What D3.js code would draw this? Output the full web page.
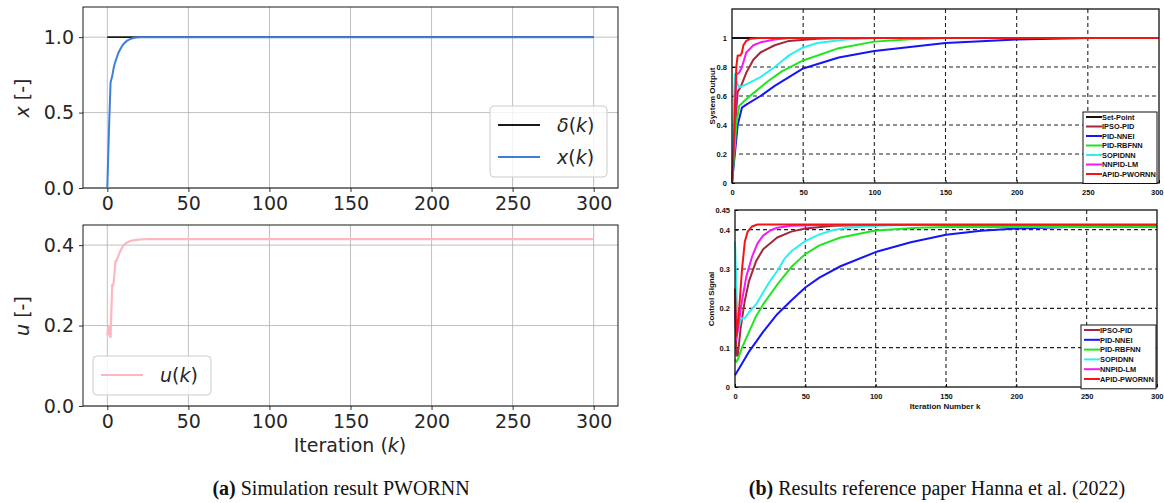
<!DOCTYPE html>
<html><head><meta charset="utf-8">
<script src="https://cdn.jsdelivr.net/npm/d3@7"></script>
<style>
body{margin:0;background:#fff;}
svg{display:block;}
</style></head>
<body>
<svg id="c" width="1164" height="503"></svg>
<script>
// ---------------- DATA ----------------
const xTicksL = [0,50,100,150,200,250,300];
const yTicksTopL = [0.0,0.5,1.0];
const yTicksBotL = [0.0,0.2,0.4];

const kDelta = [0,300];
const deltaVals = [1,1];
const kX = [0,1,2,3,4,5,6,7,8,9,10,12,14,16,18,20,25,300];
const xVals = [0,0.38,0.70,0.74,0.80,0.84,0.87,0.90,0.92,0.94,0.955,0.975,0.987,0.994,0.998,1.0,1.0,1.0];
const kU = [0,1,1.5,2,3,3.5,4,5,5.5,6,7,8,9,10,12,14,16,18,20,25,300];
const uVals = [0.176,0.2,0.175,0.17,0.3,0.3,0.31,0.36,0.36,0.365,0.375,0.385,0.393,0.4,0.406,0.41,0.412,0.413,0.414,0.415,0.415];

const xTicksR = [0,50,100,150,200,250,300];
const yTicksTopR = [0,0.2,0.4,0.6,0.8,1];
const yTicksBotR = [0,0.1,0.2,0.3,0.4,0.45];
const methods = ["IPSO-PID","PID-NNEI","PID-RBFNN","SOPIDNN","NNPID-LM","APID-PWORNN"];
const methodColors = ["#a3283a","#1515f5","#1ee61e","#2cf0f0","#f51af5","#f51414"];

// system output (reference paper)
const kSet = [0,300];            const setVals = [1,1];
const kOutIPSO = [0,1,2,3,4,6,10,15,20,30,40,60,80,300];
const outIPSO  = [0,0.15,0.35,0.5,0.63,0.66,0.76,0.85,0.9,0.95,0.98,0.995,1,1];
const kOutNNEI = [0,2,4,7,10,20,30,50,75,100,150,200,250,300];
const outNNEI  = [0,0.2,0.4,0.52,0.54,0.6,0.67,0.79,0.865,0.91,0.965,0.99,1,1];
const kOutRBF  = [0,2,3,5,8,15,25,35,50,75,100,125,150,300];
const outRBF   = [0,0.25,0.4,0.53,0.56,0.62,0.7,0.77,0.845,0.93,0.975,0.992,1,1];
const kOutSOP  = [0,1,2,3,5,10,20,30,40,50,60,80,100,300];
const outSOP   = [0,0.4,0.75,0.7,0.66,0.68,0.73,0.8,0.88,0.935,0.965,0.99,1,1];
const kOutNNLM = [0,1,2,3,5,7,10,15,20,30,40,300];
const outNNLM  = [0,0.2,0.4,0.75,0.76,0.8,0.9,0.95,0.97,0.99,1,1];
const kOutAPID = [0,1,2,3,4,6,7,8,10,13,18,300];
const outAPID  = [0,0.2,0.5,0.8,0.88,0.88,0.9,0.95,0.98,0.995,1,1];

// control signal (reference paper)
const kCtlIPSO = [0,1,2,4,7,10,15,20,30,40,50,70,100,300];
const ctlIPSO  = [0.25,0.08,0.08,0.15,0.22,0.27,0.32,0.35,0.38,0.395,0.403,0.41,0.412,0.412];
const kCtlNNEI = [0,5,10,20,30,40,50,60,75,100,125,150,175,200,250,280];
const ctlNNEI  = [0.03,0.06,0.09,0.14,0.185,0.22,0.253,0.278,0.307,0.343,0.368,0.387,0.397,0.403,0.408,0.41];
const kCtlRBF  = [0,1,2,5,10,15,20,30,40,50,60,75,100,130,150,300];
const ctlRBF   = [0.07,0.064,0.07,0.1,0.14,0.18,0.21,0.26,0.305,0.338,0.36,0.38,0.398,0.405,0.407,0.407];
const kCtlSOP  = [0,1,2,4,5,7,10,15,20,25,30,35,40,50,60,70,80,100,120,300];
const ctlSOP   = [0.37,0.25,0.14,0.17,0.175,0.175,0.19,0.21,0.24,0.27,0.295,0.325,0.345,0.371,0.388,0.399,0.405,0.41,0.412,0.412];
const kCtlNNLM = [0,1,3,5,8,12,16,20,25,30,40,60,300];
const ctlNNLM  = [0.2,0.12,0.17,0.22,0.28,0.33,0.365,0.385,0.398,0.405,0.41,0.412,0.412];
const kCtlAPID = [0,1,3,5,7,9,12,16,300];
const ctlAPID  = [0.25,0.13,0.2,0.3,0.37,0.395,0.408,0.413,0.413];

// ---------------- DRAW ----------------
const svg = d3.select("#c");
const MPLF = "'DejaVu Sans', sans-serif";
const MATF = "'Liberation Sans', Arial, sans-serif";
const zip = (ks, vs) => ks.map((k,i)=>[k, vs[i]]);

function mplPanel(cfg){
  const g = svg.append("g");
  const x = d3.scaleLinear().domain([-15,315]).range([cfg.left,cfg.right]);
  const y = d3.scaleLinear().domain(cfg.yDomain).range([cfg.bottom,cfg.top]);
  g.selectAll(".gx").data(xTicksL).join("line")
    .attr("x1",d=>x(d)).attr("x2",d=>x(d)).attr("y1",cfg.top).attr("y2",cfg.bottom)
    .attr("stroke","#b0b0b0").attr("stroke-width",0.8);
  g.selectAll(".gy").data(cfg.yTicks).join("line")
    .attr("x1",cfg.left).attr("x2",cfg.right).attr("y1",d=>y(d)).attr("y2",d=>y(d))
    .attr("stroke","#b0b0b0").attr("stroke-width",0.8);
  const ax = g.append("g").attr("transform",`translate(0,${cfg.bottom})`)
    .call(d3.axisBottom(x).tickValues(xTicksL).tickSize(4).tickPadding(5).tickFormat(d3.format("d")));
  const ay = g.append("g").attr("transform",`translate(${cfg.left},0)`)
    .call(d3.axisLeft(y).tickValues(cfg.yTicks).tickSize(4).tickPadding(5).tickFormat(d3.format(".1f")));
  [ax,ay].forEach(a=>{
    a.select(".domain").remove();
    a.selectAll("line").attr("stroke","#000").attr("stroke-width",0.8);
    a.selectAll("text").attr("font-family",MPLF).attr("font-size",19).attr("fill","#262626");
  });
  g.append("rect").attr("x",cfg.left).attr("y",cfg.top).attr("width",cfg.right-cfg.left)
    .attr("height",cfg.bottom-cfg.top).attr("fill","none").attr("stroke","#000").attr("stroke-width",0.9);
  return {g,x,y};
}

const line = (x,y)=>d3.line().x(d=>x(d[0])).y(d=>y(d[1]));

// ---- Left top
const LT = mplPanel({left:83,right:618,top:7,bottom:188,yDomain:[0,1.2],yTicks:yTicksTopL});
LT.g.append("path").datum(zip(kDelta,deltaVals)).attr("d",line(LT.x,LT.y))
  .attr("fill","none").attr("stroke","#1a1a1a").attr("stroke-width",1.8);
LT.g.append("path").datum(zip(kX,xVals)).attr("d",line(LT.x,LT.y))
  .attr("fill","none").attr("stroke","#3d7fda").attr("stroke-width",2);

// ---- Left bottom
const LB = mplPanel({left:83,right:618,top:225,bottom:406,yDomain:[0,0.45],yTicks:yTicksBotL});
LB.g.append("path").datum(zip(kU,uVals)).attr("d",line(LB.x,LB.y))
  .attr("fill","none").attr("stroke","#ffb6c1").attr("stroke-width",2.2);

function ylab(xp, yp, parts){
  const t = svg.append("text").attr("transform",`translate(${xp},${yp}) rotate(-90)`)
    .attr("text-anchor","middle").attr("font-family",MPLF).attr("font-size",19).attr("fill","#262626");
  parts.forEach(p=>t.append("tspan").attr("font-style",p[1]?"italic":"normal").text(p[0]));
}
ylab(29,98,[["x",true],[" [-]",false]]);
ylab(29,316,[["u",true],[" [-]",false]]);
{
  const t = svg.append("text").attr("x",350).attr("y",452).attr("text-anchor","middle")
    .attr("font-family",MPLF).attr("font-size",19).attr("fill","#262626");
  t.append("tspan").text("Iteration (");
  t.append("tspan").attr("font-style","italic").text("k");
  t.append("tspan").text(")");
}

function mplLegend(bx,by,bw,bh,items){
  const g = svg.append("g");
  g.append("rect").attr("x",bx).attr("y",by).attr("width",bw).attr("height",bh).attr("rx",4)
    .attr("fill","#fff").attr("fill-opacity",0.8).attr("stroke","#cccccc").attr("stroke-width",1);
  items.forEach((it,i)=>{
    const yy = by + 19 + i*32;
    g.append("line").attr("x1",bx+8).attr("x2",bx+50).attr("y1",yy).attr("y2",yy)
      .attr("stroke",it.color).attr("stroke-width",it.w);
    const t = g.append("text").attr("x",bx+67).attr("y",yy+7).attr("font-family",MPLF)
      .attr("font-size",19).attr("fill","#262626");
    t.append("tspan").attr("font-style","italic").text(it.sym);
    t.append("tspan").text("(");
    t.append("tspan").attr("font-style","italic").text("k");
    t.append("tspan").text(")");
  });
}
mplLegend(490,106,117,71,[{color:"#1a1a1a",w:1.8,sym:"δ"},{color:"#3d7fda",w:2,sym:"x"}]);
mplLegend(93,356,118,39,[{color:"#ffb6c1",w:2.2,sym:"u"}]);

// ---- Right panels (MATLAB style)
function matPanel(cfg){
  const g = svg.append("g");
  const x = d3.scaleLinear().domain([0,300]).range([cfg.left,cfg.right]);
  const y = d3.scaleLinear().domain(cfg.yDomain).range([cfg.bottom,cfg.top]);
  g.append("rect").attr("x",cfg.left).attr("y",cfg.top).attr("width",cfg.right-cfg.left)
    .attr("height",cfg.bottom-cfg.top).attr("fill","#fff");
  g.selectAll(".gx").data(xTicksR.filter(d=>d>0&&d<300)).join("line")
    .attr("x1",d=>x(d)).attr("x2",d=>x(d)).attr("y1",cfg.top).attr("y2",cfg.bottom)
    .attr("stroke","#222").attr("stroke-width",1.1).attr("stroke-dasharray","4,3");
  g.selectAll(".gy").data(cfg.grid).join("line")
    .attr("x1",cfg.left).attr("x2",cfg.right).attr("y1",d=>y(d)).attr("y2",d=>y(d))
    .attr("stroke","#222").attr("stroke-width",1.1).attr("stroke-dasharray","4,3");
  const ax = g.append("g").attr("transform",`translate(0,${cfg.bottom})`)
    .call(d3.axisBottom(x).tickValues(xTicksR).tickSize(-3).tickPadding(7));
  const ay = g.append("g").attr("transform",`translate(${cfg.left},0)`)
    .call(d3.axisLeft(y).tickValues(cfg.yTicks).tickSize(-3).tickPadding(5).tickFormat(d=>String(d)));
  [ax,ay].forEach(a=>{
    a.select(".domain").remove();
    a.selectAll("line").attr("stroke","#000").attr("stroke-width",1);
    a.selectAll("text").attr("font-family",MATF).attr("font-weight","bold").attr("font-size",7.5).attr("fill","#111");
  });
  // keep the last x label inside the page
  ax.selectAll(".tick text").filter(d=>d===300).attr("text-anchor","end").attr("x",Math.min(6, 1163-cfg.right));
  return {g,x,y,cfg};
}
function finishMat(P){
  const c = P.cfg;
  P.g.append("rect").attr("x",c.left).attr("y",c.top).attr("width",c.right-c.left)
    .attr("height",c.bottom-c.top).attr("fill","none").attr("stroke","#111").attr("stroke-width",1.3);
}
function matLegend(bx,by,bw,rowH,items){
  const g = svg.append("g");
  g.append("rect").attr("x",bx).attr("y",by).attr("width",bw).attr("height",rowH*items.length+5)
    .attr("fill","#fff").attr("stroke","#111").attr("stroke-width",1);
  items.forEach((it,i)=>{
    const yy = by + 5 + i*rowH;
    g.append("line").attr("x1",bx+3).attr("x2",bx+19).attr("y1",yy).attr("y2",yy)
      .attr("stroke",it.color).attr("stroke-width",2);
    g.append("text").attr("x",bx+19).attr("y",yy+2.7).attr("font-family",MATF).attr("font-weight","bold")
      .attr("font-size",7.4).attr("fill","#111").text(it.name);
  });
}

const RT = matPanel({left:732,right:1159,top:9,bottom:183,yDomain:[0,1.2],yTicks:yTicksTopR,grid:[0.2,0.4,0.6,0.8,1]});
const outSeries = [[kOutIPSO,outIPSO],[kOutNNEI,outNNEI],[kOutRBF,outRBF],[kOutSOP,outSOP],[kOutNNLM,outNNLM],[kOutAPID,outAPID]];
RT.g.append("path").datum(zip(kSet,setVals)).attr("d",line(RT.x,RT.y))
  .attr("fill","none").attr("stroke","#111").attr("stroke-width",2);
outSeries.forEach((s,i)=>{
  RT.g.append("path").datum(zip(s[0],s[1])).attr("d",line(RT.x,RT.y))
    .attr("fill","none").attr("stroke",methodColors[i]).attr("stroke-width",2).attr("stroke-linejoin","round");
});
finishMat(RT);
matLegend(1083,112,74,9.5,[{name:"Set-Point",color:"#111"}].concat(methods.map((m,i)=>({name:m,color:methodColors[i]}))));

const RB = matPanel({left:735,right:1157,top:210,bottom:387,yDomain:[0,0.45],yTicks:yTicksBotR,grid:[0.1,0.2,0.3,0.4]});
const ctlSeries = [[kCtlIPSO,ctlIPSO],[kCtlNNEI,ctlNNEI],[kCtlRBF,ctlRBF],[kCtlSOP,ctlSOP],[kCtlNNLM,ctlNNLM],[kCtlAPID,ctlAPID]];
ctlSeries.forEach((s,i)=>{
  RB.g.append("path").datum(zip(s[0],s[1])).attr("d",line(RB.x,RB.y))
    .attr("fill","none").attr("stroke",methodColors[i]).attr("stroke-width",2).attr("stroke-linejoin","round");
});
finishMat(RB);
matLegend(1081,325,75,9.8,methods.map((m,i)=>({name:m,color:methodColors[i]})));

svg.append("text").attr("transform","translate(715,96) rotate(-90)").attr("text-anchor","middle")
  .attr("font-family",MATF).attr("font-weight","bold").attr("font-size",8).attr("fill","#111").text("System Output");
svg.append("text").attr("transform","translate(714,299) rotate(-90)").attr("text-anchor","middle")
  .attr("font-family",MATF).attr("font-weight","bold").attr("font-size",8).attr("fill","#111").text("Control Signal");
svg.append("text").attr("x",945).attr("y",409).attr("text-anchor","middle")
  .attr("font-family",MATF).attr("font-weight","bold").attr("font-size",8).attr("fill","#111").text("Iteration Number k");

function caption(cx,cy,tag,rest){
  const t = svg.append("text").attr("x",cx).attr("y",cy).attr("text-anchor","middle")
    .attr("font-family","'Liberation Serif', serif").attr("font-size",20).attr("fill","#111");
  t.append("tspan").attr("font-weight","bold").text(tag);
  t.append("tspan").text(" "+rest);
}
caption(341,495,"(a)","Simulation result PWORNN");
caption(937,495,"(b)","Results reference paper Hanna et al. (2022)");
</script>
</body></html>
